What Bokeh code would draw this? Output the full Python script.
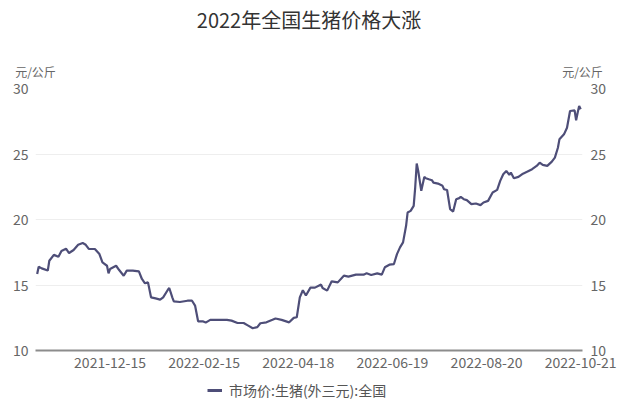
import pandas as pd
from bokeh.plotting import figure
from bokeh.layouts import column
from bokeh.models import (Range1d, LinearAxis, FixedTicker, DatetimeTickFormatter,
                          Legend, LegendItem)
from bokeh.embed import file_html
from bokeh.resources import INLINE

title_text = "2022年全国生猪价格大涨"
unit_text = "元/公斤"
series_name = "市场价:生猪(外三元):全国"

dates = [
    "2021-10-28", "2021-10-29", "2021-10-31", "2021-11-04", "2021-11-05", "2021-11-08",
    "2021-11-11", "2021-11-13", "2021-11-16", "2021-11-18", "2021-11-21", "2021-11-24",
    "2021-11-27", "2021-11-29", "2021-12-01", "2021-12-05", "2021-12-08", "2021-12-10",
    "2021-12-13", "2021-12-14", "2021-12-15", "2021-12-19", "2021-12-21", "2021-12-24",
    "2021-12-26", "2021-12-30", "2022-01-03", "2022-01-05", "2022-01-07", "2022-01-09",
    "2022-01-11", "2022-01-14", "2022-01-17", "2022-01-19", "2022-01-22", "2022-01-23",
    "2022-01-25", "2022-01-26", "2022-01-30", "2022-02-04", "2022-02-07", "2022-02-09",
    "2022-02-11", "2022-02-14", "2022-02-16", "2022-02-19", "2022-02-24", "2022-03-02",
    "2022-03-05", "2022-03-09", "2022-03-13", "2022-03-16", "2022-03-19", "2022-03-22",
    "2022-03-24", "2022-03-28", "2022-04-01", "2022-04-03", "2022-04-07", "2022-04-12",
    "2022-04-15", "2022-04-17", "2022-04-19", "2022-04-21", "2022-04-23", "2022-04-26",
    "2022-04-29", "2022-05-03", "2022-05-04", "2022-05-07", "2022-05-10", "2022-05-14",
    "2022-05-18", "2022-05-21", "2022-05-26", "2022-05-31", "2022-06-02", "2022-06-05",
    "2022-06-09", "2022-06-12", "2022-06-14", "2022-06-17", "2022-06-20", "2022-06-22",
    "2022-06-24", "2022-06-26", "2022-06-28", "2022-06-29", "2022-07-01", "2022-07-03",
    "2022-07-04", "2022-07-05", "2022-07-06", "2022-07-08", "2022-07-10", "2022-07-11",
    "2022-07-13", "2022-07-15", "2022-07-16", "2022-07-19", "2022-07-22", "2022-07-23",
    "2022-07-25", "2022-07-27", "2022-07-29", "2022-07-31", "2022-08-02", "2022-08-03",
    "2022-08-05", "2022-08-07", "2022-08-10", "2022-08-13", "2022-08-16", "2022-08-18",
    "2022-08-21", "2022-08-24", "2022-08-27", "2022-08-29", "2022-08-31", "2022-09-02",
    "2022-09-04", "2022-09-05", "2022-09-07", "2022-09-10", "2022-09-13", "2022-09-16",
    "2022-09-19", "2022-09-22", "2022-09-24", "2022-09-26", "2022-09-29", "2022-10-02",
    "2022-10-04", "2022-10-06", "2022-10-07", "2022-10-10", "2022-10-12", "2022-10-14",
    "2022-10-17", "2022-10-18", "2022-10-19", "2022-10-20", "2022-10-21",
]

prices = [
    15.84, 16.40, 16.27, 16.10, 16.85, 17.30,
    17.15, 17.60, 17.77, 17.44, 17.67, 18.07,
    18.20, 18.07, 17.75, 17.75, 17.36, 16.72,
    16.47, 15.89, 16.22, 16.47, 16.14, 15.71,
    16.10, 16.10, 16.04, 15.46, 15.13, 15.20,
    14.06, 13.98, 13.88, 14.06, 14.62, 14.77,
    14.06, 13.75, 13.70, 13.80, 13.80, 13.43,
    12.23, 12.23, 12.13, 12.34, 12.34, 12.34,
    12.28, 12.10, 12.10, 11.90, 11.70, 11.78,
    12.08, 12.15, 12.34, 12.44, 12.34, 12.15,
    12.49, 12.54, 14.06, 14.60, 14.20, 14.80,
    14.80, 15.03, 14.77, 14.57, 15.28, 15.20,
    15.71, 15.64, 15.79, 15.79, 15.89, 15.76,
    15.89, 15.79, 16.35, 16.55, 16.60, 17.36,
    17.87, 18.25, 19.52, 20.53, 20.66, 21.04,
    22.44, 24.27, 23.70, 22.19, 23.25, 23.15,
    23.07, 23.00, 22.82, 22.74, 22.57, 22.31,
    22.25, 20.79, 20.61, 21.55, 21.63, 21.73,
    21.55, 21.48, 21.17, 21.22, 21.10, 21.30,
    21.42, 22.06, 22.26, 22.95, 23.46, 23.71,
    23.40, 23.58, 23.15, 23.25, 23.50, 23.66,
    23.84, 24.09, 24.34, 24.17, 24.09, 24.42,
    24.72, 25.48, 26.12, 26.50, 27.00, 28.28,
    28.33, 27.57, 28.15, 28.66, 28.41,
]

x_tick_labels = ["2021-12-15", "2022-02-15", "2022-04-18", "2022-06-19", "2022-08-20", "2022-10-21"]
y_ticks = [10, 15, 20, 25, 30]

FONT = "Noto Sans CJK SC"
LINE_COLOR = "#4e4e78"
LABEL_COLOR = "#666666"
W = 624
MAIN_H = 376
FOOT_H = 30


def ms(ts):
    return pd.Timestamp(ts).value / 1e6


def plain_axis(ax, size, color, standoff):
    ax.axis_line_color = None
    ax.major_tick_line_color = None
    ax.minor_tick_line_color = None
    ax.major_tick_out = 0
    ax.major_tick_in = 0
    ax.minor_tick_out = 0
    ax.minor_tick_in = 0
    ax.major_label_text_font = FONT
    ax.major_label_text_font_size = size
    ax.major_label_text_color = color
    ax.major_label_standoff = standoff


x = pd.to_datetime(dates)
DAY = 86400000.0
x0 = ms(x[0])

p = figure(width=W, height=MAIN_H, x_axis_type="datetime",
           x_range=Range1d(start=x0 - 1.1 * DAY, end=x0 + 359.2 * DAY),
           y_range=Range1d(start=10, end=30),
           output_backend="svg", toolbar_location=None,
           min_border_left=35, min_border_right=42, min_border_top=88, min_border_bottom=26)
p.extra_x_ranges = {"units": Range1d(0, 1), "title": Range1d(-1, 1)}

r = p.line(x, prices, line_color=LINE_COLOR, line_width=2.2)
p.outline_line_color = None

# x axis (dates)
xa = p.xaxis[0]
plain_axis(xa, "14px", LABEL_COLOR, 6)
xa.ticker = FixedTicker(ticks=[ms(t) for t in x_tick_labels])
xa.formatter = DatetimeTickFormatter(days="%Y-%m-%d", months="%Y-%m-%d", years="%Y-%m-%d",
                                     hours="%Y-%m-%d", milliseconds="%Y-%m-%d")
xa.axis_line_color = "#8c8c8c"
xa.axis_line_width = 2

# left / right value axes
ya = p.yaxis[0]
plain_axis(ya, "14px", LABEL_COLOR, 7)
ya.ticker = FixedTicker(ticks=y_ticks)

ra = LinearAxis(ticker=FixedTicker(ticks=y_ticks))
plain_axis(ra, "14px", LABEL_COLOR, 8)
p.add_layout(ra, "right")

# unit captions above both value axes
ua = LinearAxis(x_range_name="units", ticker=FixedTicker(ticks=[0, 1]))
plain_axis(ua, "12px", LABEL_COLOR, 9)
ua.major_label_overrides = {0: unit_text, 1: unit_text}
p.add_layout(ua, "above")

# chart title
ta = LinearAxis(x_range_name="title", ticker=FixedTicker(ticks=[0]))
plain_axis(ta, "20px", "#333333", 26)
ta.major_label_overrides = {0: title_text}
p.add_layout(ta, "above")

p.xgrid.grid_line_color = None
p.ygrid.ticker = FixedTicker(ticks=y_ticks)
p.ygrid.grid_line_color = "#eeeeee"
p.ygrid.grid_line_width = 1

# footer with the legend (its renderer draws the same series, outside the footer's view)
foot = figure(width=W, height=FOOT_H, x_range=Range1d(0, 1), y_range=Range1d(0, 1),
              x_axis_location=None, y_axis_location=None,
              output_backend="svg", toolbar_location=None,
              min_border_left=35, min_border_right=42, min_border_top=0, min_border_bottom=0)
foot.outline_line_color = None
foot.xgrid.visible = False
foot.ygrid.visible = False
swatch = foot.line(x, prices, line_color=LINE_COLOR, line_width=3)

legend = Legend(items=[LegendItem(label=series_name, renderers=[swatch])],
                location=(172, 6), orientation="horizontal")
legend.border_line_color = None
legend.background_fill_alpha = 0
legend.label_text_font = FONT
legend.label_text_font_size = "14px"
legend.label_text_color = "#555555"
legend.glyph_width = 15
legend.glyph_height = 14
legend.label_height = 14
legend.padding = 3
legend.margin = 0
legend.spacing = 0
legend.label_standoff = 7
foot.add_layout(legend)

layout = column(p, foot, spacing=0)
open("out.html", "w").write(file_html(layout, INLINE))
